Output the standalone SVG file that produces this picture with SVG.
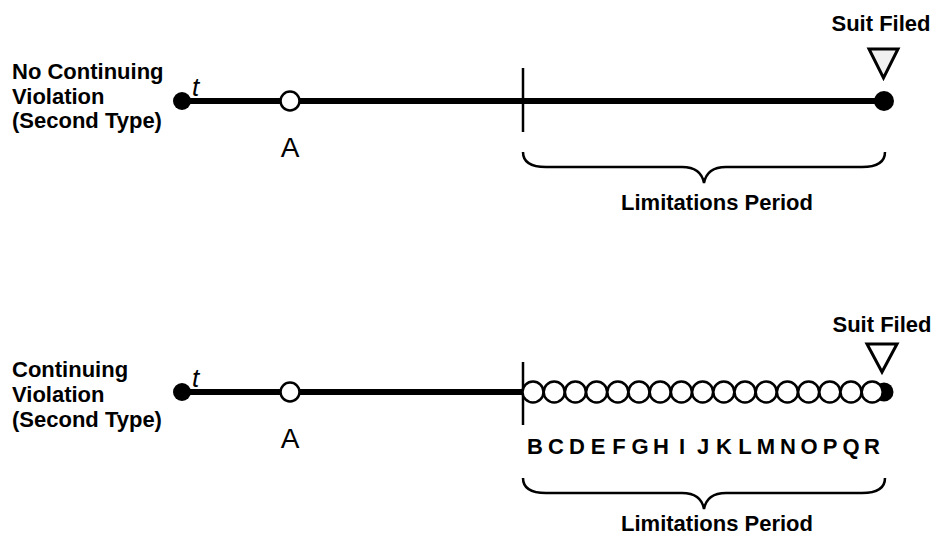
<svg xmlns="http://www.w3.org/2000/svg" width="935" height="535" viewBox="0 0 935 535">
<style>
.lbl{font-family:"Liberation Sans",Arial,sans-serif;font-weight:bold;font-size:22px;fill:#000}
.let{font-family:"Liberation Sans",Arial,sans-serif;font-weight:bold;font-size:22px;fill:#000;text-anchor:middle}
.a{font-family:"Liberation Sans",Arial,sans-serif;font-size:28px;fill:#000;text-anchor:middle}
.t{font-family:"Liberation Sans",Arial,sans-serif;font-style:italic;font-size:26px;fill:#000}
.line{stroke:#000;stroke-width:6;fill:none}
.tick{stroke:#000;stroke-width:2.5;fill:none}
.brace{stroke:#000;stroke-width:2.5;fill:none}
.dot{fill:#000}
.open{fill:#fff;stroke:#000;stroke-width:2.5}
.tri{stroke:#000;stroke-width:3;stroke-linejoin:miter}
</style>
<rect width="935" height="535" fill="#fff"/>

<g id="top-timeline">
  <text class="lbl" x="12" y="79">No Continuing</text>
  <text class="lbl" x="12" y="104">Violation</text>
  <text class="lbl" x="12" y="128">(Second Type)</text>
  <g id="connectors-top">
    <line class="line" x1="182" y1="101" x2="884" y2="101"/>
    <line class="tick" x1="523" y1="68" x2="523" y2="132"/>
  </g>
  <g id="top-start"><circle class="dot" cx="182" cy="101" r="9"/><text class="t" x="192" y="96">t</text></g>
  <g id="top-A"><circle class="open" cx="290" cy="101" r="9.5"/><text class="a" x="290" y="157">A</text></g>
  <g id="top-end"><circle class="dot" cx="884" cy="101" r="10"/></g>
  <g id="top-suit">
    <text class="lbl" x="881" y="31" text-anchor="middle">Suit Filed</text>
    <polygon class="tri" points="869,49 898,49 883.5,78" fill="#f0f0f0"/>
  </g>
  <g id="top-brace">
    <path class="brace" d="M523,152 Q523,167 546,167 L682,167 Q701,167 704,183 Q707,167 726,167 L862,167 Q885,167 885,152"/>
    <text class="lbl" x="717" y="210" text-anchor="middle">Limitations Period</text>
  </g>
</g>

<g id="bottom-timeline">
  <text class="lbl" x="12" y="377">Continuing</text>
  <text class="lbl" x="12" y="402">Violation</text>
  <text class="lbl" x="12" y="427">(Second Type)</text>
  <g id="connectors-bottom">
    <line class="line" x1="182" y1="392" x2="523" y2="392"/>
    <line class="tick" x1="523" y1="362" x2="523" y2="425"/>
  </g>
  <g id="bottom-start"><circle class="dot" cx="182" cy="392" r="9"/><text class="t" x="192" y="387">t</text></g>
  <g id="bottom-A"><circle class="open" cx="290" cy="392" r="9.5"/><text class="a" x="290" y="448">A</text></g>
  <g id="bottom-end"><circle class="dot" cx="884" cy="392" r="9.5"/></g>
  <g id="bottom-circles">
    <circle class="open" cx="533" cy="392" r="10.5"/>
    <circle class="open" cx="554.2" cy="392" r="10.5"/>
    <circle class="open" cx="575.4" cy="392" r="10.5"/>
    <circle class="open" cx="596.6" cy="392" r="10.5"/>
    <circle class="open" cx="617.8" cy="392" r="10.5"/>
    <circle class="open" cx="639" cy="392" r="10.5"/>
    <circle class="open" cx="660.2" cy="392" r="10.5"/>
    <circle class="open" cx="681.4" cy="392" r="10.5"/>
    <circle class="open" cx="702.6" cy="392" r="10.5"/>
    <circle class="open" cx="723.8" cy="392" r="10.5"/>
    <circle class="open" cx="745" cy="392" r="10.5"/>
    <circle class="open" cx="766.2" cy="392" r="10.5"/>
    <circle class="open" cx="787.4" cy="392" r="10.5"/>
    <circle class="open" cx="808.6" cy="392" r="10.5"/>
    <circle class="open" cx="829.8" cy="392" r="10.5"/>
    <circle class="open" cx="851" cy="392" r="10.5"/>
    <circle class="open" cx="872.2" cy="392" r="10.5"/>
  </g>
  <g id="bottom-letters">
    <text class="let" x="535" y="454">B</text>
    <text class="let" x="556" y="454">C</text>
    <text class="let" x="577" y="454">D</text>
    <text class="let" x="598" y="454">E</text>
    <text class="let" x="619" y="454">F</text>
    <text class="let" x="640" y="454">G</text>
    <text class="let" x="661" y="454">H</text>
    <text class="let" x="682" y="454">I</text>
    <text class="let" x="703" y="454">J</text>
    <text class="let" x="724" y="454">K</text>
    <text class="let" x="745" y="454">L</text>
    <text class="let" x="766" y="454">M</text>
    <text class="let" x="788" y="454">N</text>
    <text class="let" x="809" y="454">O</text>
    <text class="let" x="830" y="454">P</text>
    <text class="let" x="851" y="454">Q</text>
    <text class="let" x="872" y="454">R</text>
  </g>
  <g id="bottom-suit">
    <text class="lbl" x="882" y="332" text-anchor="middle">Suit Filed</text>
    <polygon class="tri" points="867,344 897,344 882,372" fill="#fff"/>
  </g>
  <g id="bottom-brace">
    <path class="brace" d="M523,478 Q523,493 546,493 L682,493 Q701,493 704,509 Q707,493 726,493 L862,493 Q885,493 885,478"/>
    <text class="lbl" x="717" y="531" text-anchor="middle">Limitations Period</text>
  </g>
</g>
</svg>
